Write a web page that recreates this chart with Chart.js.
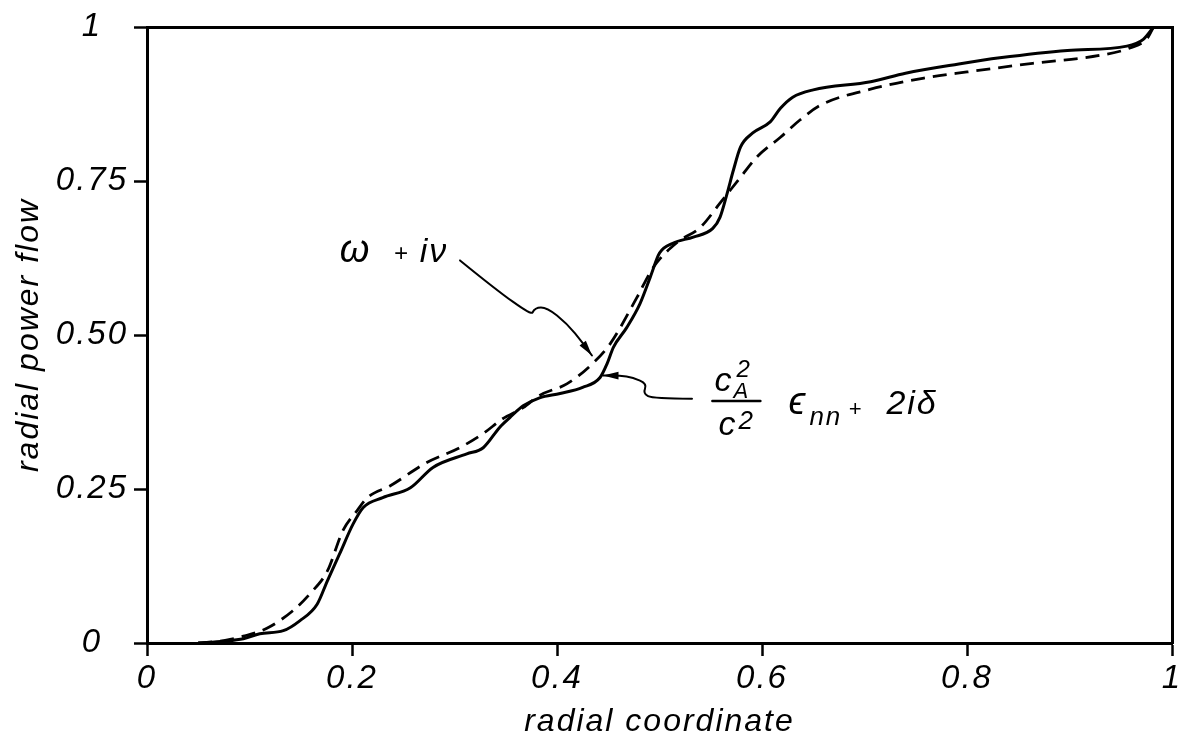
<!DOCTYPE html>
<html>
<head>
<meta charset="utf-8">
<script src="https://cdn.jsdelivr.net/npm/chart.js@4/dist/chart.umd.min.js"></script>
<style>
html, body { margin: 0; padding: 0; background: #fff; }
#wrap { width: 1188px; height: 749px; }
</style>
</head>
<body>
<div id="wrap"><canvas id="power-flow"></canvas></div>
<script>
// radial power flow against radial coordinate
var xTicks = [0, 0.2, 0.4, 0.6, 0.8, 1];
var xTickLabels = ['0', '0.2', '0.4', '0.6', '0.8', '1'];
var yTicks = [0, 0.25, 0.5, 0.75, 1];
var yTickLabels = ['0', '0.25', '0.50', '0.75', '1'];

// solid curve  (c_A^2/c^2 eps_nn + 2i delta)
var solidX = [0.05, 0.075, 0.094, 0.11, 0.133, 0.149, 0.166, 0.176, 0.188, 0.201, 0.211, 0.23, 0.257,
              0.279, 0.312, 0.328, 0.344, 0.354, 0.367, 0.383, 0.403, 0.425, 0.442, 0.449, 0.455,
              0.468, 0.481, 0.491, 0.5, 0.513, 0.533, 0.552, 0.559, 0.566, 0.572, 0.579, 0.591,
              0.608, 0.618, 0.63, 0.65, 0.706, 0.74, 0.792, 0.832, 0.898, 0.956, 0.972, 0.982];
var solidY = [0, 0.003, 0.007, 0.015, 0.02, 0.036, 0.063, 0.101, 0.145, 0.193, 0.22, 0.236, 0.252,
              0.285, 0.307, 0.317, 0.35, 0.366, 0.385, 0.398, 0.405, 0.415, 0.431, 0.454, 0.48,
              0.512, 0.551, 0.594, 0.633, 0.649, 0.659, 0.673, 0.691, 0.73, 0.767, 0.805, 0.828,
              0.846, 0.868, 0.886, 0.898, 0.911, 0.925, 0.94, 0.95, 0.962, 0.969, 0.98, 1.0];

// dashed curve  (omega + i nu)
var dashedX = [0.05, 0.075, 0.094, 0.117, 0.142, 0.159, 0.176, 0.191, 0.205, 0.215, 0.237, 0.273,
               0.305, 0.328, 0.347, 0.367, 0.383, 0.41, 0.435, 0.452, 0.478, 0.494, 0.517, 0.54,
               0.559, 0.579, 0.595, 0.618, 0.637, 0.657, 0.706, 0.758, 0.8, 0.864, 0.93, 0.959,
               0.976, 0.982];
var dashedY = [0, 0.004, 0.011, 0.024, 0.052, 0.08, 0.117, 0.182, 0.215, 0.236, 0.255, 0.293,
               0.317, 0.34, 0.364, 0.382, 0.402, 0.421, 0.454, 0.486, 0.561, 0.61, 0.65, 0.675,
               0.714, 0.756, 0.789, 0.821, 0.849, 0.873, 0.899, 0.917, 0.927, 0.941, 0.954, 0.966,
               0.982, 1.0];

// hand drawn label arrows, in data units
var arrowOmegaX = [0.3054, 0.3737, 0.3785, 0.3902, 0.4098, 0.4254, 0.4341];
var arrowOmegaY = [0.6211, 0.5285, 0.5447, 0.5447, 0.5187, 0.4862, 0.4667];
var arrowCaX = [0.5317, 0.4937, 0.4839, 0.4878, 0.4741, 0.4615, 0.4449];
var arrowCaY = [0.3967, 0.3967, 0.4049, 0.4211, 0.4309, 0.4341, 0.4341];

// label anchors, in data units
var omegaLabelAt = [0.188, 0.618];
var fractionAt = [0.575, 0.393];

var FONT = "'Liberation Sans', Arial, sans-serif";

var toPoints = function (xs, ys) {
    return xs.map(function (x, i) { return { x: x, y: ys[i] }; });
};

var HomeLabels = {
    id: 'homeLabels',
    beforeLayout: function (chart) { chart.ctx.letterSpacing = '2px'; },
    beforeDraw: function (chart) { chart.ctx.letterSpacing = '2px'; },
    afterDatasetsDraw: function (chart) {
        var ctx = chart.ctx;
        var sx = chart.scales.x, sy = chart.scales.y;

        var arrow = function (xs, ys) {
            var p = xs.map(function (x, i) { return [sx.getPixelForValue(x), sy.getPixelForValue(ys[i])]; });
            ctx.beginPath();
            ctx.moveTo(p[0][0], p[0][1]);
            for (var i = 1; i < p.length - 1; i++) {
                var mx = (p[i][0] + p[i + 1][0]) / 2, my = (p[i][1] + p[i + 1][1]) / 2;
                ctx.quadraticCurveTo(p[i][0], p[i][1], mx, my);
            }
            var last = p[p.length - 1], prev = p[p.length - 2];
            ctx.lineTo(last[0], last[1]);
            ctx.stroke();
            var a = Math.atan2(last[1] - prev[1], last[0] - prev[0]);
            ctx.beginPath();
            ctx.moveTo(last[0], last[1]);
            ctx.lineTo(last[0] - 16 * Math.cos(a - 0.25), last[1] - 16 * Math.sin(a - 0.25));
            ctx.lineTo(last[0] - 16 * Math.cos(a + 0.25), last[1] - 16 * Math.sin(a + 0.25));
            ctx.closePath();
            ctx.fill();
        };

        var text = function (s, x, y, size) {
            ctx.font = 'italic ' + size + 'px ' + FONT;
            ctx.fillText(s, x, y);
        };

        ctx.save();
        ctx.strokeStyle = '#000';
        ctx.fillStyle = '#000';
        ctx.lineWidth = 2;
        ctx.lineCap = 'round';
        ctx.lineJoin = 'round';
        arrow(arrowOmegaX, arrowOmegaY);
        arrow(arrowCaX, arrowCaY);

        ctx.textAlign = 'left';
        ctx.textBaseline = 'alphabetic';

        // omega + i nu
        var ox = sx.getPixelForValue(omegaLabelAt[0]), oy = sy.getPixelForValue(omegaLabelAt[1]);
        text('\u03c9', ox, oy, 38);
        text('+', ox + 54, oy - 1, 24);
        text('i\u03bd', ox + 80, oy, 34);

        // c_A^2 / c^2  eps_nn + 2i delta
        var fx = sx.getPixelForValue(fractionAt[0]), fy = sy.getPixelForValue(fractionAt[1]);
        ctx.lineWidth = 2.5;
        ctx.beginPath();
        ctx.moveTo(fx - 24, fy);
        ctx.lineTo(fx + 24, fy);
        ctx.stroke();
        text('c', fx - 22, fy - 10, 34);
        text('A', fx - 3, fy - 3, 22);
        text('2', fx, fy - 24, 24);
        text('c', fx - 18, fy + 34, 34);
        text('2', fx + 2, fy + 28, 26);
        text('\u03f5', fx + 52, fy + 13, 38);
        text('nn', fx + 73, fy + 24, 26);
        text('+', fx + 112, fy + 15, 22);
        text('2i\u03b4', fx + 150, fy + 13, 34);
        ctx.restore();
    },
    afterDraw: function (chart) { chart.ctx.letterSpacing = '0px'; }
};

var PowerFlowGraph = (function () {
    var PowerFlowGraph = function () {

        var elem = 'power-flow';

        var init = function () {
            Chart.defaults.font.family = FONT;
            Chart.defaults.color = '#000';
            draw();
        };

        var axisGrid = {
            display: true,
            drawOnChartArea: false,
            drawTicks: true,
            tickLength: 13,
            tickWidth: 2.5,
            color: '#000'
        };

        var draw = function () {
            var chart = new Chart(elem, {
                type: 'line',
                data: {
                    datasets: [{
                        label: 'c_A^2/c^2 eps_nn + 2i delta',
                        data: toPoints(solidX, solidY),
                        borderColor: '#000',
                        borderWidth: 3,
                        pointRadius: 0,
                        cubicInterpolationMode: 'monotone',
                        fill: false
                    }, {
                        label: 'omega + i nu',
                        data: toPoints(dashedX, dashedY),
                        borderColor: '#000',
                        borderWidth: 2.8,
                        borderDash: [14, 8],
                        pointRadius: 0,
                        cubicInterpolationMode: 'monotone',
                        fill: false
                    }]
                },
                options: {
                    responsive: true,
                    maintainAspectRatio: false,
                    animation: false,
                    layout: { padding: { top: 27, right: 16, bottom: 0, left: 0 } },
                    plugins: {
                        legend: { display: false },
                        tooltip: { enabled: false }
                    },
                    scales: {
                        x: {
                            type: 'linear',
                            position: 'bottom',
                            min: 0,
                            max: 1,
                            afterBuildTicks: function (s) { s.ticks = xTicks.map(function (v) { return { value: v }; }); },
                            afterFit: function (s) { s.height = 106; },
                            grid: axisGrid,
                            border: { display: true, color: '#000', width: 3 },
                            ticks: {
                                padding: 3,
                                maxRotation: 0,
                                font: { size: 33, style: 'italic' },
                                callback: function (v, i) { return xTickLabels[i]; }
                            },
                            title: {
                                display: true,
                                text: 'radial coordinate',
                                font: { size: 32, style: 'italic' },
                                padding: { top: 0, bottom: 8 }
                            }
                        },
                        y: {
                            type: 'linear',
                            position: 'left',
                            min: 0,
                            max: 1,
                            afterBuildTicks: function (s) { s.ticks = yTicks.map(function (v) { return { value: v }; }); },
                            afterFit: function (s) { s.width = 147; },
                            grid: axisGrid,
                            border: { display: true, color: '#000', width: 3 },
                            ticks: {
                                padding: 6,
                                crossAlign: 'center',
                                font: { size: 33, style: 'italic' },
                                callback: function (v, i) { return yTickLabels[i]; }
                            },
                            title: {
                                display: true,
                                text: 'radial power flow',
                                font: { size: 32, style: 'italic' },
                                padding: { top: 10, bottom: 0 }
                            }
                        },
                        x2: {
                            type: 'linear',
                            position: 'top',
                            display: true,
                            min: 0,
                            max: 1,
                            afterFit: function (s) { s.height = 0; },
                            grid: { display: true, drawOnChartArea: false, drawTicks: false },
                            border: { display: true, color: '#000', width: 3 },
                            ticks: { display: false }
                        },
                        y2: {
                            type: 'linear',
                            position: 'right',
                            display: true,
                            min: 0,
                            max: 1,
                            afterFit: function (s) { s.width = 0; },
                            grid: { display: true, drawOnChartArea: false, drawTicks: false },
                            border: { display: true, color: '#000', width: 3 },
                            ticks: { display: false }
                        }
                    }
                },
                plugins: [HomeLabels]
            });
        };

        init();
        return {};
    };

    return PowerFlowGraph;
})();

PowerFlowGraph();
</script>
</body>
</html>
